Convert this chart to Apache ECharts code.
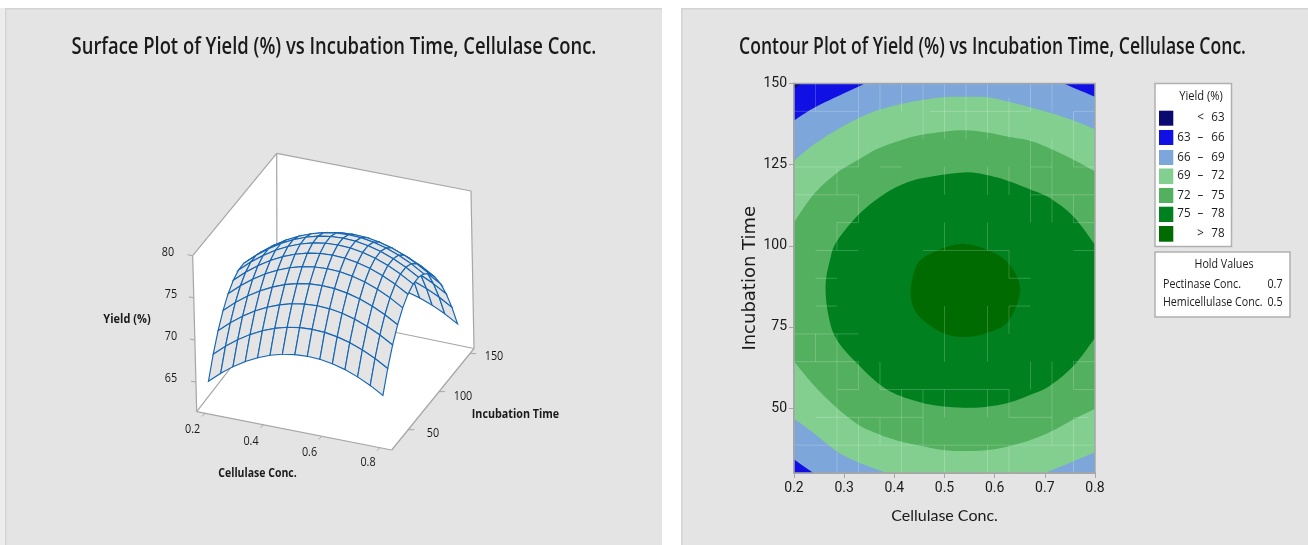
<!DOCTYPE html>
<html><head><meta charset="utf-8">
<style>html,body{margin:0;padding:0;background:#fff}#c{width:1308px;height:545px}</style>
<script src="https://cdn.jsdelivr.net/npm/echarts@6/dist/echarts.min.js"></script>
</head><body><div id="c"></div>
<script>
// ---------- data ----------
const cellulaseConc = [0.2,0.2429,0.2857,0.3286,0.3714,0.4143,0.4571,0.5,0.5429,0.5857,0.6286,0.6714,0.7143,0.7571,0.8];
const incubationTime = [30,38.57,47.14,55.71,64.29,72.86,81.43,90,98.57,107.14,115.71,124.29,132.86,141.43,150];
// yield (%) : one row per incubation time, one column per cellulase conc.
const yieldRows = [
[64.69,65.93,67.00,67.91,68.65,69.23,69.65,69.90,69.99,69.92,69.68,69.28,68.71,67.99,67.10],
[67.10,68.34,69.41,70.32,71.06,71.64,72.06,72.31,72.40,72.33,72.09,71.69,71.12,70.40,69.51],
[69.11,70.35,71.42,72.33,73.07,73.65,74.07,74.32,74.41,74.34,74.10,73.70,73.13,72.41,71.52],
[70.72,71.96,73.03,73.94,74.68,75.26,75.68,75.93,76.02,75.95,75.71,75.31,74.74,74.02,73.13],
[71.94,73.18,74.25,75.16,75.90,76.48,76.90,77.15,77.24,77.17,76.93,76.53,75.96,75.24,74.35],
[72.76,74.00,75.07,75.98,76.72,77.30,77.72,77.97,78.06,77.99,77.75,77.35,76.78,76.06,75.17],
[73.19,74.43,75.50,76.41,77.15,77.73,78.15,78.40,78.49,78.42,78.18,77.78,77.21,76.49,75.60],
[73.21,74.45,75.52,76.43,77.17,77.75,78.17,78.42,78.51,78.44,78.20,77.80,77.23,76.51,75.62],
[72.84,74.08,75.15,76.06,76.80,77.38,77.80,78.05,78.14,78.07,77.83,77.43,76.86,76.14,75.25],
[72.08,73.32,74.39,75.30,76.04,76.62,77.04,77.29,77.38,77.31,77.07,76.67,76.10,75.38,74.49],
[70.91,72.15,73.22,74.13,74.87,75.45,75.87,76.12,76.21,76.14,75.90,75.50,74.93,74.21,73.32],
[69.35,70.59,71.66,72.57,73.31,73.89,74.31,74.56,74.65,74.58,74.34,73.94,73.37,72.65,71.76],
[67.40,68.64,69.71,70.62,71.36,71.94,72.36,72.61,72.70,72.63,72.39,71.99,71.42,70.70,69.81],
[65.04,66.28,67.35,68.26,69.00,69.58,70.00,70.25,70.34,70.27,70.03,69.63,69.06,68.34,67.45],
[62.29,63.53,64.60,65.51,66.25,66.83,67.25,67.50,67.59,67.52,67.28,66.88,66.31,65.59,64.70]
];
const surfaceCellTicks = [0.2,0.4,0.6,0.8];
const surfaceTimeTicks = [50,100,150];
const surfaceYieldTicks = [65,70,75,80];

// contour boundaries: [cellulase, time]
const rectFull = [[0.2,30],[0.8,30],[0.8,150],[0.2,150]];
const blueTopLeft = [[0.2,150],[0.2,138.6],[0.2385,142.4],[0.285,145.9],[0.328,149],[0.3415,150]];
const navyTopLeft = [[0.2,150],[0.2,148.5],[0.215,150]];
const blueTopRight = [[0.737,150],[0.8,145.9],[0.8,150]];
const blueBottomLeft = [[0.2,30],[0.2,34.2],[0.2385,30]];
const contour69 = [[0.2,126.2],[0.2385,131.1],[0.285,135.7],[0.328,139.3],[0.368,141.8],[0.411,143.6],[0.4545,144.9],[0.501,145.8],[0.5375,145.9],[0.584,145.8],[0.627,144.4],[0.67,142.7],[0.71,141],[0.757,138.6],[0.8,135.9],[0.8,36.4],[0.757,33.6],[0.7,30],[0.385,30],[0.328,33.3],[0.285,36.7],[0.2385,42.4],[0.2,46.7]];
const contour72 = [[0.2,107.2],[0.2385,115.7],[0.285,122.4],[0.328,126.5],[0.368,130],[0.411,132.4],[0.4545,134.2],[0.531,135.6],[0.584,134.9],[0.627,133.6],[0.67,132.4],[0.71,130],[0.757,126.5],[0.8,122.9],[0.8,49.8],[0.757,46.5],[0.71,42.6],[0.67,40.1],[0.627,38.2],[0.584,37],[0.5375,36.8],[0.501,37],[0.4545,38.3],[0.411,39.8],[0.368,42],[0.328,44.9],[0.285,50.1],[0.2385,57.2],[0.2,64.4]];
const contour75 = [[0.263,88],[0.2718,95.7],[0.285,101.3],[0.328,109.5],[0.3714,115],[0.411,118.6],[0.4545,120.8],[0.5375,122.6],[0.584,121.8],[0.627,120],[0.67,117.4],[0.71,114.7],[0.757,109],[0.8,100.3],[0.8,71.6],[0.757,63],[0.71,56.9],[0.67,54],[0.627,51.6],[0.584,50.4],[0.5375,50.1],[0.471,51.1],[0.411,53.8],[0.3714,57.2],[0.328,63.4],[0.285,71.1],[0.268,79]];
const contour78 = [[0.4325,86.3],[0.441,92.6],[0.4565,96.2],[0.4976,99.3],[0.5375,100.6],[0.584,98.8],[0.627,94.7],[0.651,86.5],[0.627,76.7],[0.584,73.1],[0.541,71.9],[0.4976,73.1],[0.4565,77.2],[0.438,81]];
const contourXTicks = [0.2,0.3,0.4,0.5,0.6,0.7,0.8];
const contourYTicks = [50,75,100,125,150];
// faint mesh seams seen in the contour fill, by mesh index
const seamsAlongTime = [[3,11,14],[2,10,11],[3,9,10],[2,8,9],[4,13,14],[5,13,14],[6,12,14],[1,13,14],[1,4,5],[2,0,5],[3,3,4],[3,0,2],[4,3,4],[5,0,3],[6,1,3],[4,1,2],[7,12,14],[8,12,14],[9,12,14],[10,12,13.5],[11,13,14],[12,13,14],[13,11,13],[11,9,12],[12,9,12],[13,9,10],[7,10,11],[9,10,11],[10,10,11],[7,8,9],[9,8,9],[10,7,8],[7,4,6],[9,4,6],[10,5,6],[11,3,4],[12,1,4],[13,3,4],[7,2,3],[9,2,3],[10,2,3],[13,0,2],[7,0,1],[9,0,1],[10,0,1]];
const seamsAlongConc = [[11,0,3],[10,0,3],[9,2,3],[8,1,3],[7,1,2],[11,4,5],[13,0,3],[6,1,2],[5,0,3],[4,0,3],[3,2,3],[2,1,6],[1,0,14],[3,4,10],[13,6.3,11],[13,13,14],[11,13,14],[11,11,12],[10,11,14],[9,13,14],[8,6,10],[7,10,11],[8,13,14],[6,10,11],[4,13,14],[3,13,14],[2,10,12],[2,13,13.7]];

const legendLabels = [['','<','63'],['63','–','66'],['66','–','69'],['69','–','72'],['72','–','75'],['75','–','78'],['','>','78']];
const legendColors = ['#0a0a70','#1010e4','#7da7da','#82cf90','#53b05e','#00801f','#006b00'];
const holdNames = ['Pectinase Conc.','Hemicellulase Conc.'];
const holdValues = ['0.7','0.5'];

// ---------- styles ----------
const FONT = '"Open Sans"';
const AX = '#a6a6a6';
const INK = '#1a1a1a';
const bands = [
  {p:rectFull,c:legendColors[2]},{p:blueTopLeft,c:legendColors[1]},{p:navyTopLeft,c:legendColors[0]},
  {p:blueTopRight,c:legendColors[1]},{p:blueBottomLeft,c:legendColors[1]},
  {p:contour69,c:legendColors[3]},{p:contour72,c:legendColors[4]},{p:contour75,c:legendColors[5]},{p:contour78,c:legendColors[6]}
];

// ---------- oblique 3D view: corners of the box on the page plane ----------
const F = {a:[196.7,411.7],b:[391.7,450],c:[277,308],d:[474,348.5]};   // floor: (u,v)=(0,0),(1,0),(0,1),(1,1)
const T = {a:[192.7,255.7],b:[387.7,294],c:[276.7,153.3],d:[471,191]}; // top of the box
const zLo = 61.5, zHi = 80;
const bil = (q,u,v,k)=>q.a[k]*(1-u)*(1-v)+q.b[k]*u*(1-v)+q.c[k]*(1-u)*v+q.d[k]*u*v;
const uOf = x=>0.043+(x-0.2)/0.6*0.897;
const vOf = t=>0.05+(t-30)/120*0.9;
function projUV(u,v,z){const w=(z-zLo)/(zHi-zLo);
  return [bil(F,u,v,0)+(bil(T,u,v,0)-bil(F,u,v,0))*w, bil(F,u,v,1)+(bil(T,u,v,1)-bil(F,u,v,1))*w];}
const proj = (x,t,z)=>projUV(uOf(x),vOf(t),z);

const quads=[];
for(let j=incubationTime.length-2;j>=0;j--)for(let i=0;i<cellulaseConc.length-1;i++)quads.push([i,j]);

const wallShape = [[F.a,F.b,F.d,F.c],[F.a,F.c,T.c,T.a],[F.c,F.d,T.d,T.c]];
const boxEdges = [[F.a,T.a],[T.a,T.c],[T.c,T.d],[T.d,F.d],[F.d,F.b],[F.b,F.a],[F.a,F.c],[F.c,F.d],[T.c,F.c]];

function line(api,p,q,color,w){const a=api.coord(p),b=api.coord(q);
  return {type:'line',shape:{x1:a[0],y1:a[1],x2:b[0],y2:b[1]},style:{stroke:color,lineWidth:w,fill:null}};}
function poly(api,pts,fill,stroke,w){return {type:'polygon',shape:{points:pts.map(p=>api.coord(p))},style:{fill:fill,stroke:stroke,lineWidth:w||0}};}

// curve drawing only: rounds each boundary run between its read points, straight along the plot edge
const onEdge=(a,b)=>(a[0]===b[0]&&(a[0]===0.2||a[0]===0.8))||(a[1]===b[1]&&(a[1]===30||a[1]===150));
function cr(a,b,c,d,s){const s2=s*s,s3=s2*s;return [0,1].map(k=>0.5*(2*b[k]+(c[k]-a[k])*s+(2*a[k]-5*b[k]+4*c[k]-d[k])*s2+(3*b[k]-a[k]-3*c[k]+d[k])*s3));}
function curvePts(data,px){
  const n=data.length,STEP=6,out=[];
  let start=-1;
  for(let k=0;k<n;k++)if(onEdge(data[k],data[(k+1)%n])){start=(k+1)%n;break;}
  if(start<0){
    for(let k=0;k<n;k++)for(let s=0;s<STEP;s++)out.push(cr(px[(k-1+n)%n],px[k],px[(k+1)%n],px[(k+2)%n],s/STEP));
    return out;
  }
  let run=[start];
  const flush=()=>{for(let m=0;m<run.length-1;m++){
      const a=px[run[Math.max(m-1,0)]],b=px[run[m]],c=px[run[m+1]],d=px[run[Math.min(m+2,run.length-1)]];
      for(let s=0;s<STEP;s++)out.push(cr(a,b,c,d,s/STEP));}
    out.push(px[run[run.length-1]]);};
  for(let c=0;c<n;c++){
    const k=(start+c)%n,nx=(k+1)%n;
    if(onEdge(data[k],data[nx])){flush();run=[nx];}else run.push(nx);
  }
  return out;
}

function text(x,y,s,size,sx,opt){opt=opt||{};
  return {type:'text',x:x,y:y,scaleX:sx||1,z:20,silent:true,
    style:{text:s,fill:INK,font:(opt.w||'normal')+' '+size+'px '+FONT,textAlign:opt.a||'center',textVerticalAlign:'middle'}};}

const g=[];
const PANEL='#e4e4e4', EDGE='#d3d3d3';
[[5,662],[681,1308]].forEach(r=>{
  g.push({type:'rect',z:-10,shape:{x:r[0],y:8,width:r[1]-r[0],height:537},style:{fill:PANEL}});
  g.push({type:'rect',z:-9,shape:{x:r[0],y:8,width:r[1]-r[0],height:1.5},style:{fill:EDGE}});
  g.push({type:'rect',z:-9,shape:{x:r[0],y:8,width:1.5,height:537},style:{fill:EDGE}});
});
g.push({type:'rect',z:-10,shape:{x:0,y:8,width:5,height:537},style:{fill:'#ececec'}});
g.push(text(334,47,'Surface Plot of Yield (%) vs Incubation Time, Cellulase Conc.',23,0.8,{w:'600'}));
g.push(text(992.5,47,'Contour Plot of Yield (%) vs Incubation Time, Cellulase Conc.',23,0.764,{w:'600'}));
g.push(text(127,319,'Yield (%)',12.5,0.88,{w:'bold'}));
g.push(text(257.5,473,'Cellulase Conc.',12.5,0.84,{w:'bold'}));
g.push(text(515.5,414,'Incubation Time',12.5,0.86,{w:'bold'}));
surfaceYieldTicks.forEach((z,i)=>g.push(text(171-(i==3?3:0),[379,337,295,253][i],String(z),12,0.9)));
surfaceCellTicks.forEach((x,i)=>g.push(text([192.7,251,309.5,368][i],[430,442,453,463][i],x.toFixed(1),12,0.9)));
surfaceTimeTicks.forEach((t,i)=>g.push(text([433,463,494][i],[434,397,357][i],String(t),12,0.9)));
// legend boxes
const box=(x,y,w,h)=>({type:'rect',z:15,shape:{x,y,width:w,height:h},style:{fill:'#fff',stroke:'#b0b0b0',lineWidth:1.5}});
g.push(box(1155,83.5,76.5,163));
g.push(box(1155,252,135,65));
g.push(text(1201,97,'Yield (%)',12,0.93));
const swatchY=[110.7,130,150,168.5,188,206.7,226], swatchH=[15,15,15,15.5,15,15.3,15.7];
legendLabels.forEach((l,i)=>{
  g.push({type:'rect',z:16,shape:{x:1159,y:swatchY[i],width:14.3,height:swatchH[i]},style:{fill:legendColors[i]}});
  const yy=swatchY[i]+7;
  if(l[0])g.push(text(1184,yy,l[0],12.5,0.93));
  g.push(text(1200.5,yy,l[1],12.5,0.93));
  g.push(text(1218,yy,l[2],12.5,0.93));
});
g.push(text(1224,265,'Hold Values',12,0.89));
holdNames.forEach((n,i)=>{
  g.push(text(1163,[285,303][i],n,12,0.89,{a:'left'}));
  g.push(text(1282.5,[285,303][i],holdValues[i],12,0.89,{a:'right'}));
});

const option={
  animation:false,backgroundColor:'#fff',
  graphic:{elements:g},
  grid:[
    {left:0,top:0,width:1308,height:545,show:false},
    {left:794,top:83.5,width:301,height:389.5,show:false}
  ],
  xAxis:[
    {gridIndex:0,type:'value',min:0,max:1308,show:false},
    {gridIndex:1,type:'value',min:0.2,max:0.8,interval:0.1,name:'Cellulase Conc.',nameLocation:'middle',nameGap:35,
     nameTextStyle:{fontFamily:'Lato',fontSize:16,color:INK},
     axisLine:{show:true,lineStyle:{color:AX,width:2}},axisTick:{show:true,length:5,lineStyle:{color:AX}},
     axisLabel:{fontFamily:'Roboto',fontSize:14,color:INK,margin:8,customValues:contourXTicks,formatter:v=>(+v).toFixed(1)},splitLine:{show:false}}
  ],
  yAxis:[
    {gridIndex:0,type:'value',min:0,max:545,inverse:true,show:false},
    {gridIndex:1,type:'value',min:30,max:150,name:'Incubation Time',nameLocation:'middle',nameGap:31,nameRotate:90,
     nameTextStyle:{fontFamily:'DejaVu Sans',fontSize:18,color:INK},
     axisLine:{show:true,lineStyle:{color:AX,width:2}},axisTick:{show:true,length:5,customValues:contourYTicks,lineStyle:{color:AX}},
     axisLabel:{fontFamily:'Roboto',fontSize:14,color:INK,margin:7,customValues:contourYTicks},splitLine:{show:false}}
  ],
  series:[
    {type:'custom',name:'box',xAxisIndex:0,yAxisIndex:0,clip:false,silent:true,z:2,data:[[0]],
     renderItem:(p,api)=>{
       const ch=[];
       wallShape.forEach(s=>ch.push(poly(api,s,'#fff',null,0)));
       boxEdges.forEach(e=>ch.push(line(api,e[0],e[1],AX,1.2)));
       surfaceYieldTicks.forEach(z=>{const a=projUV(0,0,z);ch.push(line(api,a,[a[0]-5,a[1]-1],AX,1));});
       surfaceCellTicks.forEach(x=>{const a=projUV(uOf(x),0,zLo);ch.push(line(api,a,[a[0]-3,a[1]+3],AX,1));});
       surfaceTimeTicks.forEach(t=>{const a=projUV(1,vOf(t),zLo);ch.push(line(api,a,[a[0]+6,a[1]],AX,1));});
       return {type:'group',children:ch};
     }},
    {type:'custom',name:'Yield (%) surface',xAxisIndex:0,yAxisIndex:0,clip:false,silent:true,z:3,data:quads,
     renderItem:(p,api)=>{
       const q=quads[p.dataIndex],i=q[0],j=q[1];
       const pts=[[i,j],[i+1,j],[i+1,j+1],[i,j+1]].map(c=>proj(cellulaseConc[c[0]],incubationTime[c[1]],yieldRows[c[1]][c[0]]));
       return poly(api,pts,'#e4e4e4','#1666b4',1.15);
     }},
    {type:'custom',name:'Yield (%) contours',xAxisIndex:1,yAxisIndex:1,clip:false,silent:true,z:3,data:bands.map((b,i)=>[i]),
     renderItem:(p,api)=>{const b=bands[p.dataIndex];
       return {type:'polygon',shape:{points:curvePts(b.p,b.p.map(d=>api.coord(d)))},style:{fill:b.c}};}},
    {type:'custom',name:'seams',xAxisIndex:1,yAxisIndex:1,clip:false,silent:true,z:4,data:[[0]],
     renderItem:(p,api)=>{
       const at=(a,k)=>{const f=Math.floor(k),c=Math.min(f+1,a.length-1);return a[f]+(a[c]-a[f])*(k-f);};
       const ch=[],S='rgba(255,255,255,0.2)';
       seamsAlongTime.forEach(s=>ch.push(line(api,[at(cellulaseConc,s[0]),at(incubationTime,s[1])],[at(cellulaseConc,s[0]),at(incubationTime,s[2])],S,1)));
       seamsAlongConc.forEach(s=>ch.push(line(api,[at(cellulaseConc,s[1]),at(incubationTime,s[0])],[at(cellulaseConc,s[2]),at(incubationTime,s[0])],S,1)));
       return {type:'group',children:ch};
     }},
    {type:'custom',name:'frame',xAxisIndex:1,yAxisIndex:1,clip:false,silent:true,z:5,data:[[0]],
     renderItem:(p,api)=>poly(api,rectFull,'none',AX,1.5)}
  ]
};
echarts.init(document.getElementById('c'),null,{renderer:'canvas'}).setOption(option);
</script></body></html>
